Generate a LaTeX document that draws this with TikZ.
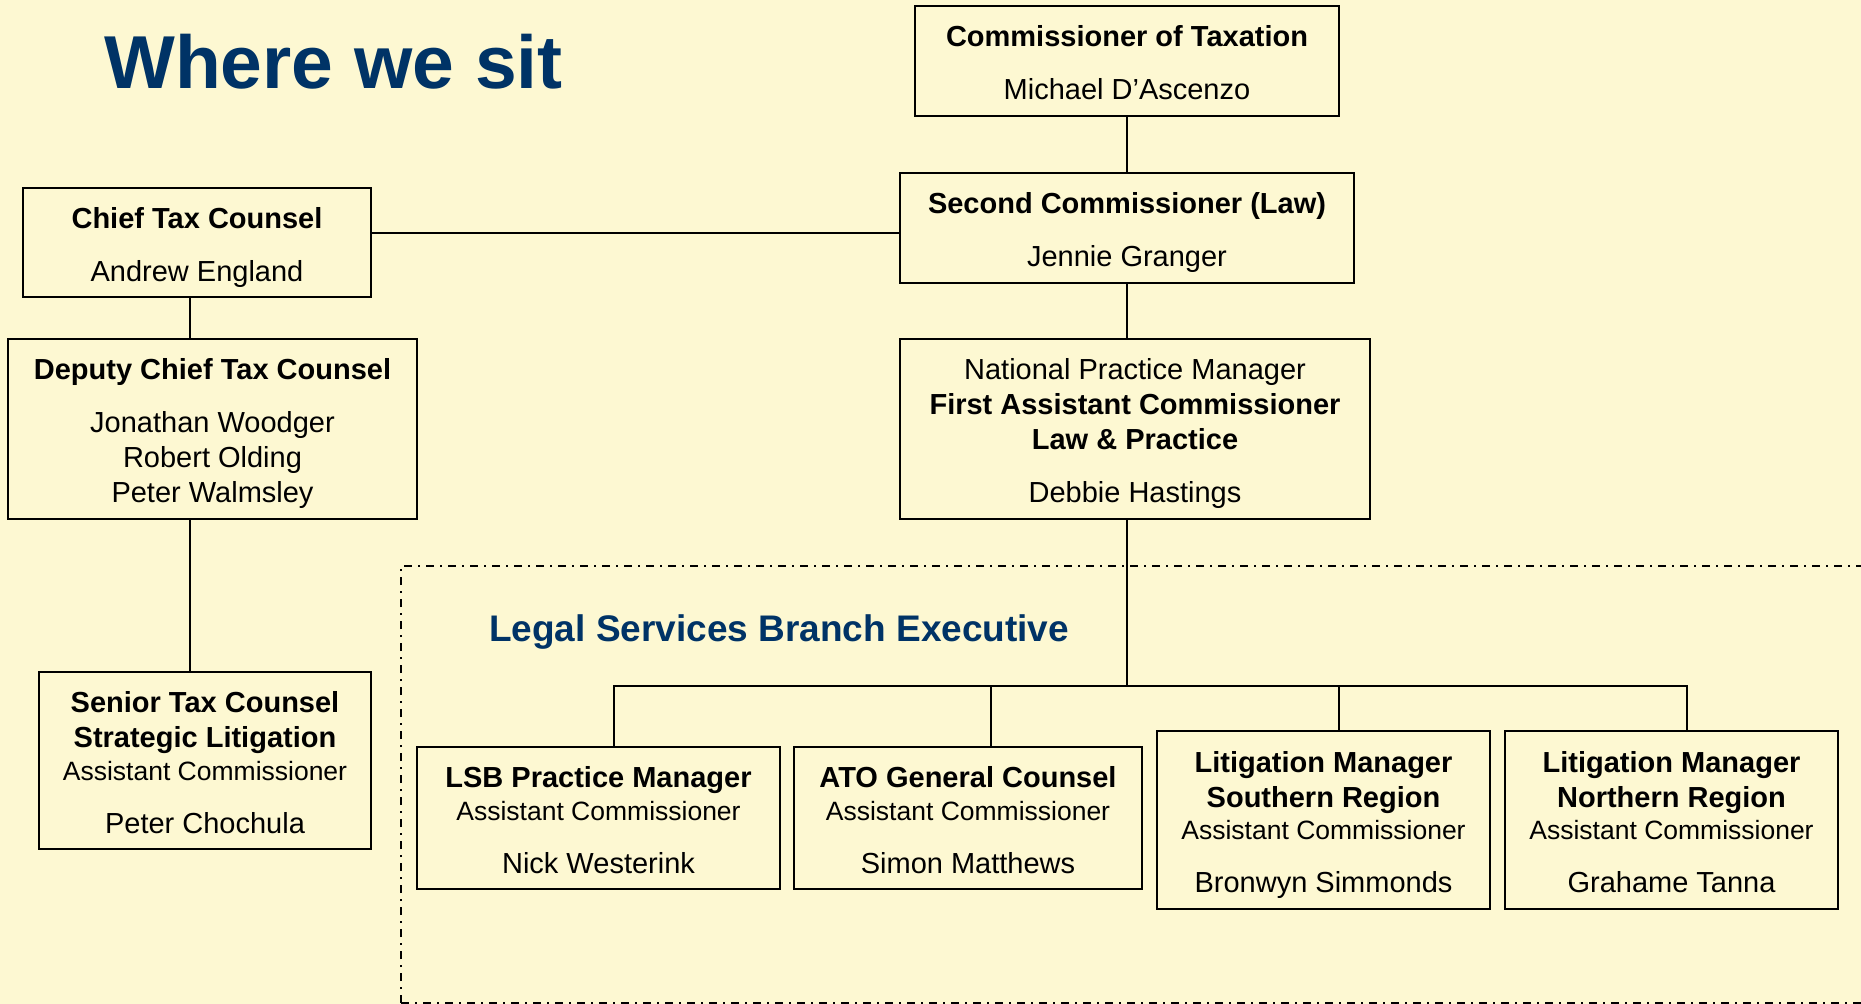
\documentclass[tikz,border=0pt]{standalone}
\usepackage{fontspec}
\setmainfont{Liberation Sans}
\definecolor{bg}{RGB}{253,248,210}
\definecolor{navy}{RGB}{0,51,102}
\newcommand\ac{\fontsize{26.5}{34}\selectfont Assistant Commissioner}
\newcommand\hstrut{\rule{0pt}{30.5pt}}
\newcommand\dstrut{\rule[-6pt]{0pt}{6pt}}
\tikzset{
  box/.style={draw=black, line width=1.6pt, rectangle, inner sep=0pt, align=center,
    font=\fontsize{29}{35}\selectfont},
  link/.style={draw=black, line width=1.3pt},
  group/.style={draw=black, line width=1.6pt, dash pattern=on 8pt off 6pt on 2pt off 6pt},
  heading/.style={inner sep=0pt, anchor=base west, text=navy, font=\bfseries}
}
\begin{document}
\begin{tikzpicture}[x=1pt, y=-1pt]
\useasboundingbox (0,0) rectangle (1861,1004);
\fill[bg] (0,0) rectangle (1861,1004);
\clip (0,0) rectangle (1861,1004);

% titles
\node[heading, font=\fontsize{75}{80}\selectfont\bfseries] (title) at (104,88) {Where we sit};
\node[heading, font=\fontsize{37}{42}\selectfont\bfseries] (lsbe) at (489,641) {Legal Services Branch Executive};

% dash-dot group frame
\draw[group] (401,1003) -- (401,566) -- (1870,566);
\draw[group] (401,1003) -- (1870,1003);

% boxes
\node[box, minimum width=424pt, minimum height=110pt] (comm) at (1127,61)
  {\hstrut\textbf{Commissioner of Taxation}\\[18pt]Michael D’Ascenzo\dstrut};
\node[box, minimum width=454pt, minimum height=110pt] (second) at (1127,228)
  {\hstrut\textbf{Second Commissioner (Law)}\\[18pt]Jennie Granger\dstrut};
\node[box, minimum width=348pt, minimum height=109pt] (chief) at (197,242.5)
  {\hstrut\textbf{Chief Tax Counsel}\\[18pt]Andrew England\dstrut};
\node[box, minimum width=409pt, minimum height=180pt] (deputy) at (212.5,429)
  {\hstrut\textbf{Deputy Chief Tax Counsel}\\[18pt]Jonathan Woodger\\Robert Olding\\Peter Walmsley\dstrut};
\node[box, minimum width=332pt, minimum height=177pt] (senior) at (205,760.5)
  {\hstrut\textbf{Senior Tax Counsel}\\\textbf{Strategic Litigation}\\[-2.5pt]\ac\\[18pt]Peter Chochula\dstrut};
\node[box, minimum width=470pt, minimum height=180pt] (npm) at (1135,429)
  {\hstrut National Practice Manager\\\textbf{First Assistant Commissioner}\\\textbf{Law \& Practice}\\[18pt]Debbie Hastings\dstrut};
\node[box, minimum width=363pt, minimum height=142pt] (lsb) at (598.5,818)
  {\hstrut\textbf{LSB Practice Manager}\\[-2.5pt]\ac\\[18pt]Nick Westerink\dstrut};
\node[box, minimum width=348pt, minimum height=142pt] (ato) at (968,818)
  {\hstrut\textbf{ATO General Counsel}\\[-2.5pt]\ac\\[18pt]Simon Matthews\dstrut};
\node[box, minimum width=333pt, minimum height=178pt] (lits) at (1323.5,820)
  {\hstrut\textbf{Litigation Manager}\\\textbf{Southern Region}\\[-2.5pt]\ac\\[18pt]Bronwyn Simmonds\dstrut};
\node[box, minimum width=333pt, minimum height=178pt] (litn) at (1671.5,820)
  {\hstrut\textbf{Litigation Manager}\\\textbf{Northern Region}\\[-2.5pt]\ac\\[18pt]Grahame Tanna\dstrut};

% helper coordinates
\coordinate (lspine) at (190,0);
\coordinate (rspine) at (1127,0);
\coordinate (hy) at (0,233);
\coordinate (bus) at (0,686);
\coordinate (dlsb) at (614,0);
\coordinate (dato) at (991,0);
\coordinate (dlits) at (1339,0);
\coordinate (dlitn) at (1687,0);

% connectors
\draw[link] (comm.south) -- (second.north);
\draw[link] (chief.east |- hy) -- (second.west |- hy);
\draw[link] (rspine |- second.south) -- (rspine |- npm.north);
\draw[link] (rspine |- npm.south) -- (rspine |- bus);
\draw[link] (dlsb |- lsb.north) -- (dlsb |- bus) -- (dlitn |- bus) -- (dlitn |- litn.north);
\draw[link] (dato |- bus) -- (dato |- ato.north);
\draw[link] (dlits |- bus) -- (dlits |- lits.north);
\draw[link] (lspine |- chief.south) -- (lspine |- deputy.north);
\draw[link] (lspine |- deputy.south) -- (lspine |- senior.north);
\end{tikzpicture}
\end{document}
